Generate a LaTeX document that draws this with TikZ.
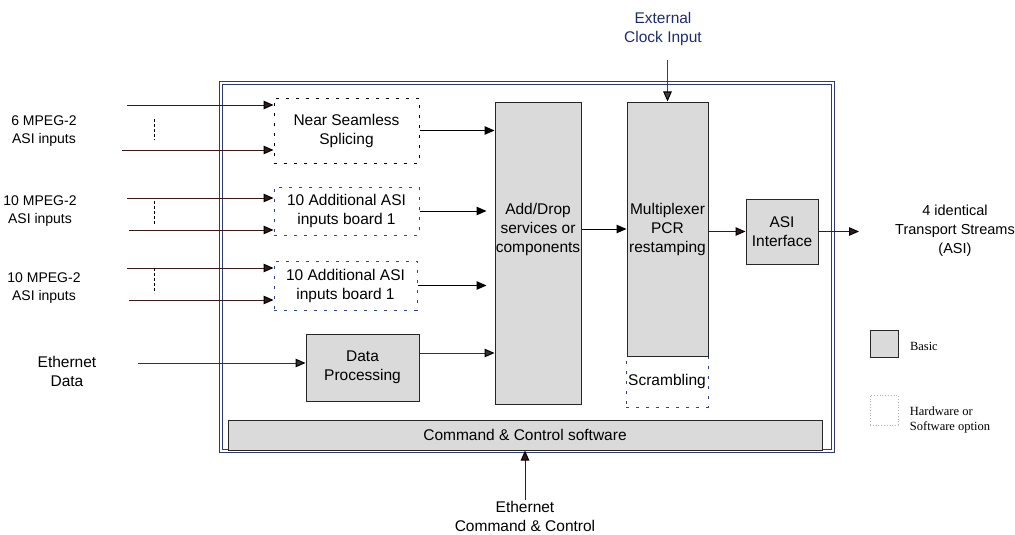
\documentclass[tikz,border=0pt]{standalone}
\usepackage{fontspec}
\setmainfont{Liberation Sans}
\newfontfamily\legendfont{Liberation Serif}
\usepackage{tikz}
\usetikzlibrary{positioning,arrows.meta}

\definecolor{boxgray}{RGB}{218,218,218}
\definecolor{framenavy}{RGB}{45,58,115}
\definecolor{optnavy}{RGB}{50,65,130}
\definecolor{wire}{RGB}{55,25,25}
\definecolor{clocknavy}{RGB}{30,45,110}

\tikzset{
  basic/.style={draw=black!85, fill=boxgray, line width=1pt, inner sep=0pt, align=center},
  option/.style={draw=optnavy, line width=1pt, dash pattern=on 3pt off 7pt, inner sep=0pt, align=center},
  label text/.style={align=center, inner sep=0pt},
}

\begin{document}
\begin{tikzpicture}[x=1pt, y=-1pt, >={Triangle[length=10pt,width=8.5pt,color=black]}, line width=1pt,
  every node/.style={font=\fontsize{15.5}{19}\selectfont}]

\useasboundingbox (0,0) rectangle (1015,535);

\node[draw=framenavy, double=white, double distance=1.6pt, line width=0.9pt, minimum width=612pt, minimum height=368pt, inner sep=0pt] (frame) at (527,267) {};

\node[option, draw=black, minimum width=145pt, minimum height=65pt] (spl) at (346.5,130.5) {Near Seamless\\Splicing};
\node[option, minimum width=145pt, minimum height=48pt] (brd1) at (346.5,211) {10 Additional ASI\\inputs board 1};
\node[option, minimum width=143pt, minimum height=49pt] (brd2) at (345.5,285.5) {10 Additional ASI\\inputs board 1};
\node[option, minimum width=82pt, minimum height=51pt] (scr) at (667,381.5) {Scrambling};

\node[basic, minimum width=113pt, minimum height=67pt] (dp) at (362.5,367.5) {Data\\Processing};
\node[basic, minimum width=86pt, minimum height=302pt] (add) at (538,253) {};
\node[label text] (addtxt) at (538,229) {Add/Drop\\services or\\components};
\node[basic, minimum width=81pt, minimum height=254pt] (mux) at (667.5,229) {Multiplexer\\PCR\\restamping};
\node[basic, minimum width=72pt, minimum height=65pt] (asi) at (782,231.5) {ASI\\Interface};
\node[basic, minimum width=594pt, minimum height=30pt] (cc) at (525,435) {Command \& Control software};

\node[label text, font=\fontsize{14}{18}\selectfont] (in1) at (44,131) {6 MPEG-2\\ASI inputs};
\node[label text, font=\fontsize{14}{18}\selectfont] (in2) at (40,211) {10 MPEG-2\\ASI inputs};
\node[label text, font=\fontsize{14}{18}\selectfont] (in3) at (44,288) {10 MPEG-2\\ASI inputs};
\node[label text] (eth) at (67,371) {Ethernet\\Data};
\node[label text, text=clocknavy] (clk) at (663,29) {External\\Clock Input};
\node[label text, font=\fontsize{14.5}{19}\selectfont] (ts) at (955,231) {4 identical\\Transport Streams\\(ASI)};
\node[label text] (ecc) at (525,516) {Ethernet\\Command \& Control};

% legend
\node[basic, minimum width=28pt, minimum height=27pt] (lgbasic) at (884,343.5) {};
\node[label text, font=\legendfont\fontsize{12.5}{15}\selectfont, right=11pt of lgbasic, yshift=-3pt] (lgbasictxt) {Basic};
\node[draw=black!30, dotted, line width=0.8pt, minimum width=28pt, minimum height=30pt, inner sep=0pt] (lgopt) at (884,410) {};
\node[label text, align=left, font=\legendfont\fontsize{12.5}{15}\selectfont, right=11pt of lgopt, yshift=-10pt] (lgopttxt) {Hardware or\\Software option};

% inputs
\foreach \y/\x/\b in {105/127/spl, 150/122/spl, 198/127/brd1, 230/129/brd1, 268/127/brd2, 300/129/brd2} {
  \coordinate (s) at (\x,\y);
  \path [->, color=wire] (s) edge (s -| \b.west);
}
\foreach \a/\b in {119/140, 201/225, 268/293}
  \draw[densely dashed, line width=0.8pt] (154,\a) -- (154,\b);

\coordinate (ethin) at (138,363);
\path [->, color=black!80] (ethin) edge (ethin -| dp.west);

\path [->] (spl) edge (spl -| add.west);
\path [->] (brd1) edge ([xshift=-8pt]brd1 -| add.west);
\path [->] (brd2) edge ([xshift=-8pt]brd2 -| add.west);
\path [->, color=black!80] ([yshift=14.5pt]dp.east) edge ([yshift=14.5pt]dp.east -| add.west);
\path [->] (add.east |- mux) edge (mux);
\path [->, color=wire] (mux.east |- asi) edge (asi);
\coordinate (tsend) at (859,231.5);
\path [->, color=wire] (asi) edge (tsend);
\path [->, color=black!75] ([yshift=-14pt]clk.south -| mux.north) edge (mux.north);
\path [->, color=wire] (ecc) edge (cc);

\end{tikzpicture}
\end{document}
